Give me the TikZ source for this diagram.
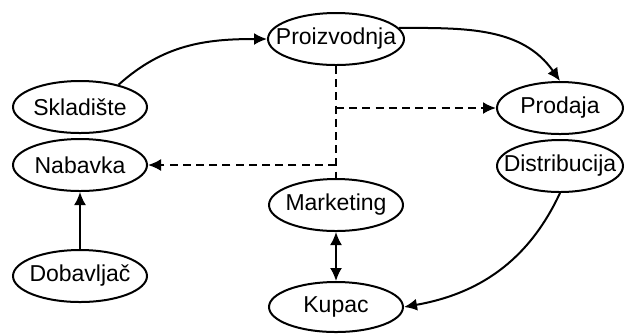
\documentclass[tikz,border=0pt]{standalone}
\usepackage{fontspec}
\setmainfont{Liberation Sans}
\usetikzlibrary{shapes.geometric,arrows.meta}

\newcommand{\wide}[1]{\makebox[0pt]{#1}}

\begin{document}
\begin{tikzpicture}[x=0.5pt,y=-0.5pt,
    stage/.style={draw,ellipse,line width=1pt,inner sep=0pt,
      minimum width=67pt,minimum height=26pt,
      font=\fontsize{11.5pt}{14pt}\selectfont},
    narrow/.style={stage,minimum width=63pt},
    flow/.style={line width=1pt,-{Latex[length=6.5pt,width=6pt]}},
    plan/.style={flow,dash pattern=on 4pt off 2.6pt}]
      \useasboundingbox (0,0) rectangle (625,334) ;
      % nodes
      \node[stage,minimum width=68pt] (proizvodnja) at (336,39) {\wide{Proizvodnja}} ;
      \node[stage] (skladiste) at (80,107) {\wide{Skladište}} ;
      \node[stage] (nabavka) at (80,165) {\wide{Nabavka}} ;
      \node[stage] (dobavljac) at (80,276) {\wide{Dobavljač}} ;
      \node[stage] (marketing) at (336,205) {\wide{Marketing}} ;
      \node[stage,minimum height=25pt] (kupac) at (336,307) {\wide{Kupac}} ;
      \node[narrow] (prodaja) at (560,108) {\wide{Prodaja}} ;
      \node[narrow] (distribucija) at (560,166) {\wide{Distribucija}} ;
      % solid connectors
      \draw[flow] (skladiste.30) to[out=42,in=180] (proizvodnja.west) ;
      \draw[flow] (proizvodnja.10) to[out=0,in=125] (prodaja.north) ;
      \draw[flow] (distribucija.south) to[out=-115,in=10] (kupac.east) ;
      \draw[flow] (dobavljac.north) -- (nabavka.south) ;
      \draw[flow,{Latex[length=6.5pt,width=6pt]}-{Latex[length=6.5pt,width=6pt]}] %
      (marketing.south) -- (kupac.north) ;
      % dashed connectors
      \coordinate (toprodaja) at (proizvodnja.south |- prodaja.west) ;
      \coordinate (tonabavka) at (proizvodnja.south |- nabavka.east) ;
      \draw[line width=1pt,dash pattern=on 4pt off 2.6pt] %
      (proizvodnja.south) -- (marketing.north) ;
      \draw[plan] (toprodaja) -- (prodaja.west) ;
      \draw[plan] (tonabavka) -- (nabavka.east) ;
    \end{tikzpicture}
\end{document}
